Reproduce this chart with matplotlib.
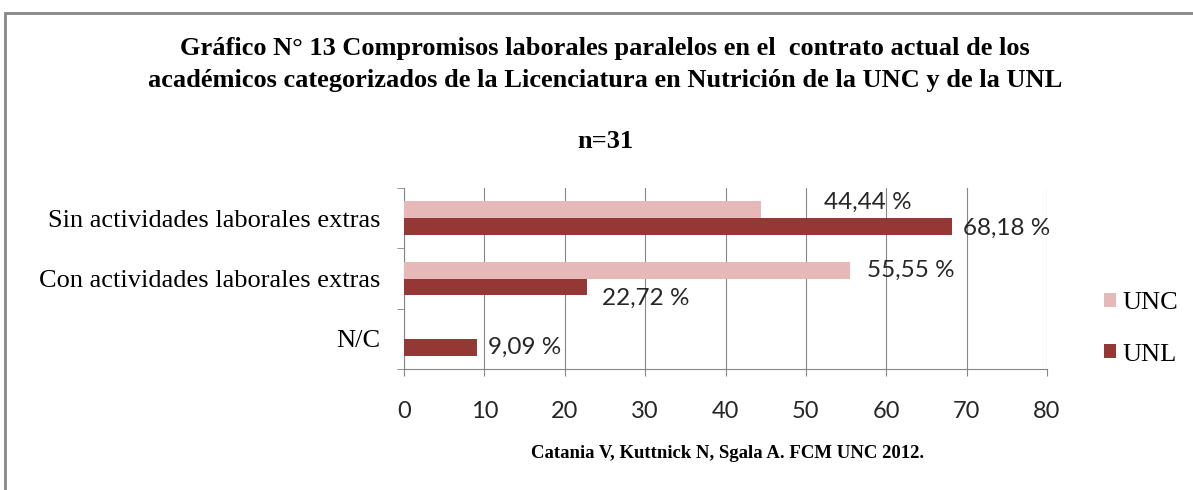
import matplotlib
matplotlib.use("Agg")
import matplotlib.pyplot as plt
from matplotlib.patches import Rectangle
import numpy as np

# =========================
# Data
# =========================

categories = ["N/C", "Con actividades laborales extras", "Sin actividades laborales extras"]
unc_values = [0, 55.55, 44.44]
unl_values = [9.09, 22.72, 68.18]
unc_labels = ["", "55,55 %", "44,44 %"]
unl_labels = ["9,09 %", "22,72 %", "68,18 %"]
x_ticks = [0, 10, 20, 30, 40, 50, 60, 70, 80]

# label offsets (points) from bar end
unc_offsets = [(0, 0), (12, 0), (45, 5)]
unl_offsets = [(8, 0), (11, -8), (8, -1.5)]

UNC_COLOR = "#E6B9B8"
UNL_COLOR = "#953735"
LABEL_FONT = "Lato"
SERIF = "Liberation Serif"

# =========================
# Figure
# =========================

fig = plt.figure(figsize=(11.93, 4.90), dpi=100)
ax = fig.add_axes([404 / 1193, 1 - 369 / 490, 643 / 1193, 181 / 490])

# outer border
fig.patches.append(Rectangle((5 / 1193, -0.05), 1.1, 1 - 13 / 490 + 0.05,
                             transform=fig.transFigure, fill=False,
                             edgecolor="#868686", linewidth=2))

y = np.arange(len(categories))
h = 0.28

ax.barh(y + h / 2, unc_values, height=h, color=UNC_COLOR, label="UNC", zorder=3)
ax.barh(y - h / 2, unl_values, height=h, color=UNL_COLOR, label="UNL", zorder=3)

for i in range(len(categories)):
    if unc_labels[i]:
        ax.annotate(unc_labels[i], (unc_values[i], y[i] + h / 2),
                    xytext=unc_offsets[i], textcoords="offset points",
                    ha="left", va="center", fontsize=17.5, family=LABEL_FONT,
                    color="#262626")
    ax.annotate(unl_labels[i], (unl_values[i], y[i] - h / 2),
                xytext=unl_offsets[i], textcoords="offset points",
                ha="left", va="center", fontsize=17.5, family=LABEL_FONT,
                color="#262626")

ax.set_xlim(0, 80)
ax.set_ylim(-0.5, 2.5)
ax.set_xticks(x_ticks)
ax.set_xticklabels([str(t) for t in x_ticks], fontsize=17, family=LABEL_FONT,
                   color="#262626")
ax.tick_params(axis="x", length=5, color="#868686", pad=18)

ax.set_yticks(y)
ax.set_yticklabels(categories, fontsize=19, family=SERIF)
ax.tick_params(axis="y", length=0, pad=17)
ax.set_yticks([-0.5, 0.5, 1.5, 2.5], minor=True)
ax.tick_params(axis="y", which="minor", length=5, color="#868686")

ax.grid(axis="x", color="#868686", linewidth=0.8, zorder=0)
for s in ["top", "right"]:
    ax.spines[s].set_visible(False)
for s in ["left", "bottom"]:
    ax.spines[s].set_color("#868686")

# =========================
# Legend
# =========================

leg = fig.legend(loc="center left", bbox_to_anchor=(1104 / 1193, 1 - 329 / 490),
                 frameon=False, borderpad=0, borderaxespad=0,
                 handlelength=0.45, handleheight=0.45,
                 handletextpad=0.25, labelspacing=1.1,
                 prop={"family": SERIF, "size": 19})

# =========================
# Titles
# =========================

title_x = 605 / 1193
fig.text(title_x, 1 - 48 / 490, "Gráfico N° 13 Compromisos laborales paralelos en el  contrato actual de los",
         ha="center", va="center", family=SERIF, weight="bold", fontsize=19)
fig.text(title_x, 1 - 80 / 490, "académicos categorizados de la Licenciatura en Nutrición de la UNC y de la UNL",
         ha="center", va="center", family=SERIF, weight="bold", fontsize=19)
fig.text(title_x, 1 - 141 / 490, "n=31",
         ha="center", va="center", family=SERIF, weight="bold", fontsize=19)
fig.text(728 / 1193, 1 - 453 / 490, "Catania V, Kuttnick N, Sgala A. FCM UNC 2012.",
         ha="center", va="center", family=SERIF, weight="bold", fontsize=13.5)

fig.savefig("out.png", dpi=100)
